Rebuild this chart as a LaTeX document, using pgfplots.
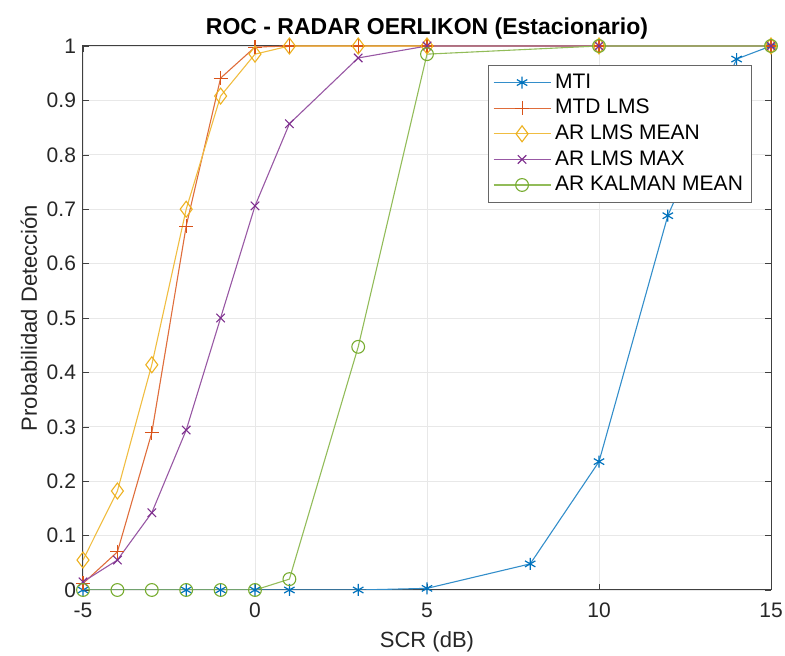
\documentclass[border=0pt]{standalone}
\usepackage{pgfplots}
\pgfplotsset{compat=1.18}
\usepackage{fontspec}
\setmainfont{Liberation Sans}
\definecolor{c1}{rgb}{0.0,0.447,0.741}
\definecolor{c2}{rgb}{0.85,0.325,0.098}
\definecolor{c3}{rgb}{0.929,0.694,0.125}
\definecolor{c4}{rgb}{0.494,0.184,0.556}
\definecolor{c5}{rgb}{0.466,0.674,0.188}
\definecolor{axgray}{gray}{0.25}
\begin{document}
\begin{tikzpicture}
\useasboundingbox (-41.5pt,-33pt) rectangle (351pt,295pt);
\begin{axis}[
  scale only axis, width=344pt, height=272pt,
  at={(0,0)}, anchor=south west,
  xmin=-5, xmax=15, ymin=0, ymax=1,
  xtick={-5,0,5,10,15},
  ytick={0,0.1,0.2,0.3,0.4,0.5,0.6,0.7,0.8,0.9,1},
  yticklabel style={/pgf/number format/fixed,/pgf/number format/precision=1},
  xticklabel style={yshift=-3pt},
  /pgf/number format/assume math mode=true,
  tick label style={font=\fontsize{10.5}{12}\selectfont, text=black!85},
  label style={font=\fontsize{11}{13}\selectfont, text=black!85},
  xlabel={SCR (dB)}, ylabel={Probabilidad Detección},
  xlabel style={yshift=0pt}, ylabel style={yshift=-2pt},
  title={\bfseries ROC - RADAR OERLIKON (Estacionario)},
  title style={font=\fontsize{11.5}{13}\selectfont, yshift=-6pt},
  grid=major, major grid style={gray!18, line width=0.4pt},
  axis line style={axgray, line width=0.5pt},
  tick style={axgray}, tick align=inside, major tick length=3pt,
  xtick pos=both, ytick pos=both,
  legend style={at={(0.972,0.965)}, anchor=north east, draw=black!60,
    font=\fontsize{10.5}{12}\selectfont, row sep=0pt, inner sep=2.2pt},
  legend cell align=left,
  legend image code/.code={\draw[mark repeat=2,mark phase=2] plot coordinates {(0cm,0cm) (0.5cm,0cm) (1.0cm,0cm)};},
  every axis plot/.append style={line width=0.55pt},
]
\addplot[c1!80, mark=asterisk, mark size=3pt, mark options={c1, line width=0.6pt}] coordinates {
(-5,0) (-2,0) (-1,0) (0,0) (1,0) (3,0) (5,0.003) (8,0.048) (10,0.236) (12,0.688) (14,0.976) (15,1)};
\addlegendentry{MTI}
\addplot[c2!85, mark=+, mark size=3.5pt, mark options={c2}] coordinates {
(-5,0.012) (-4,0.07) (-3,0.289) (-2,0.669) (-1,0.941) (0,0.998) (1,1) (3,1) (5,1) (10,1) (15,1)};
\addlegendentry{MTD LMS}
\addplot[c3!85, mark=diamond, mark size=4pt, mark options={c3}] coordinates {
(-5,0.055) (-4,0.182) (-3,0.414) (-2,0.70) (-1,0.908) (0,0.985) (1,1) (3,1) (5,1) (10,1) (15,1)};
\addlegendentry{AR LMS MEAN}
\addplot[c4!80, mark=x, mark size=3pt, mark options={c4}] coordinates {
(-5,0.015) (-4,0.055) (-3,0.142) (-2,0.294) (-1,0.50) (0,0.706) (1,0.857) (3,0.978) (5,1) (10,1) (15,1)};
\addlegendentry{AR LMS MAX}
\addplot[c5!80, mark=o, mark size=3.2pt, mark options={c5}] coordinates {
(-5,0) (-4,0) (-3,0) (-2,0) (-1,0) (0,0) (1,0.02) (3,0.447) (5,0.985) (10,1) (15,1)};
\addlegendentry{AR KALMAN MEAN}
\end{axis}
\end{tikzpicture}
\end{document}
